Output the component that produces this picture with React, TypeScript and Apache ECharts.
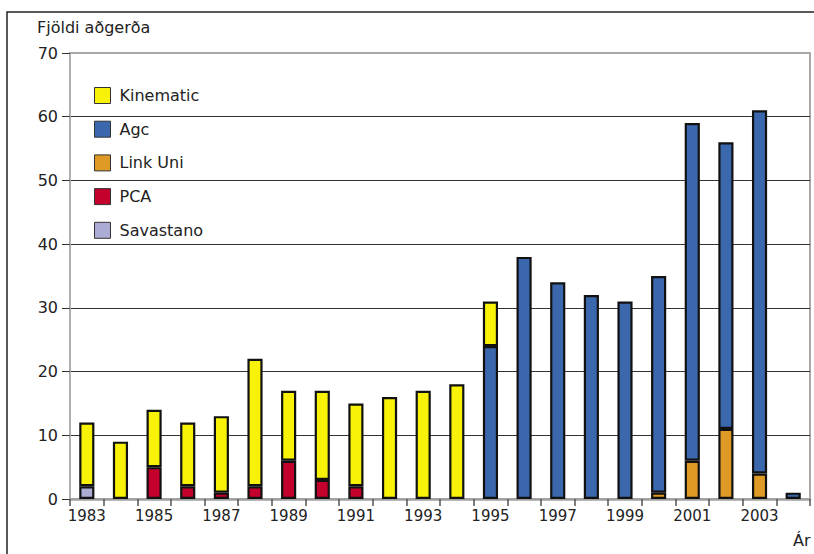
import React, { useEffect, useRef } from "react";
import * as echarts from "echarts";

const years = ["1983","1984","1985","1986","1987","1988","1989","1990","1991","1992","1993","1994","1995","1996","1997","1998","1999","2000","2001","2002","2003","2004"];
const kinematic = [10, 9, 9, 10, 12, 20, 11, 14, 13, 16, 17, 18, 7, null, null, null, null, null, null, null, null, null];
const agc = [null, null, null, null, null, null, null, null, null, null, null, null, 24, 38, 34, 32, 31, 34, 53, 45, 57, 1];
const linkUni = [null, null, null, null, null, null, null, null, null, null, null, null, null, null, null, null, null, 1, 6, 11, 4, null];
const pca = [null, null, 5, 2, 1, 2, 6, 3, 2, null, null, null, null, null, null, null, null, null, null, null, null, null];
const savastano = [2, null, null, null, null, null, null, null, null, null, null, null, null, null, null, null, null, null, null, null, null, null];
const legendOrder = ["Kinematic", "Agc", "Link Uni", "PCA", "Savastano"];
const yTitle = "Fjöldi aðgerða";
const xTitle = "Ár";

const FONT = "DejaVu Sans";

export default function App() {
  const ref = useRef<HTMLDivElement>(null);
  useEffect(() => {
    if (!ref.current) return;
    const chart = echarts.init(ref.current, null, { renderer: "svg" });
    const mk = (name: string, data: (number | null)[], color: string) => ({
      name,
      type: "bar",
      stack: "total",
      data,
      barWidth: "45%",
      itemStyle: { color, borderColor: "#111", borderWidth: 2.2 },
    });
    chart.setOption({
      animation: false,
      textStyle: { fontFamily: FONT },
      grid: {
        left: 70, top: 53, width: 740, height: 446,
        show: true, borderColor: "#a8a8a8", borderWidth: 2, backgroundColor: "transparent",
      },
      legend: {
        orient: "vertical",
        left: 89, top: 82,
        itemWidth: 16, itemHeight: 16, itemGap: 16.7,
        icon: "rect",
        data: legendOrder,
        itemStyle: { borderColor: "#333", borderWidth: 1 },
        textStyle: { fontFamily: FONT, fontSize: 16, color: "#222", padding: [0, 0, 0, 4] },
      },
      xAxis: {
        type: "category",
        data: years,
        axisLine: { show: true, lineStyle: { color: "#a0a0a0", width: 2.5 } },
        axisTick: { show: true, interval: 0, length: 7, lineStyle: { color: "#555", width: 1.5 } },
        axisLabel: { interval: 1, margin: 9, fontFamily: FONT, fontSize: 15, color: "#222" },
        splitLine: { show: false },
      },
      yAxis: {
        type: "value",
        min: 0, max: 70, interval: 10,
        axisLine: { show: true, lineStyle: { color: "#b0b0b0", width: 2 } },
        axisTick: { show: true, length: 8, lineStyle: { color: "#333", width: 1 } },
        axisLabel: { margin: 12, fontFamily: FONT, fontSize: 16, color: "#222" },
        splitLine: {
          show: true,
          lineStyle: { color: ["#a0a0a0", "#333", "#333", "#333", "#333", "#333", "#333", "#a8a8a8"], width: 1 },
        },
      },
      graphic: [
        { type: "rect", shape: { x: 7, y: 12, width: 830, height: 580 }, style: { fill: "none", stroke: "#222", lineWidth: 1.5 }, silent: true },
        { type: "text", left: 37, top: 19, style: { text: yTitle, fontFamily: FONT, fontSize: 16, fill: "#222" } },
        { type: "text", left: 793, top: 532, style: { text: xTitle, fontFamily: FONT, fontSize: 16, fill: "#222" } },
      ],
      series: [
        mk("Savastano", savastano, "#ababd4"),
        mk("PCA", pca, "#c4002c"),
        mk("Link Uni", linkUni, "#de9a25"),
        mk("Agc", agc, "#3b67ad"),
        mk("Kinematic", kinematic, "#f7f208"),
      ],
    });
    return () => chart.dispose();
  }, []);
  return <div ref={ref} style={{ position: "absolute", left: 0, top: 0, width: 814, height: 554 }} />;
}
